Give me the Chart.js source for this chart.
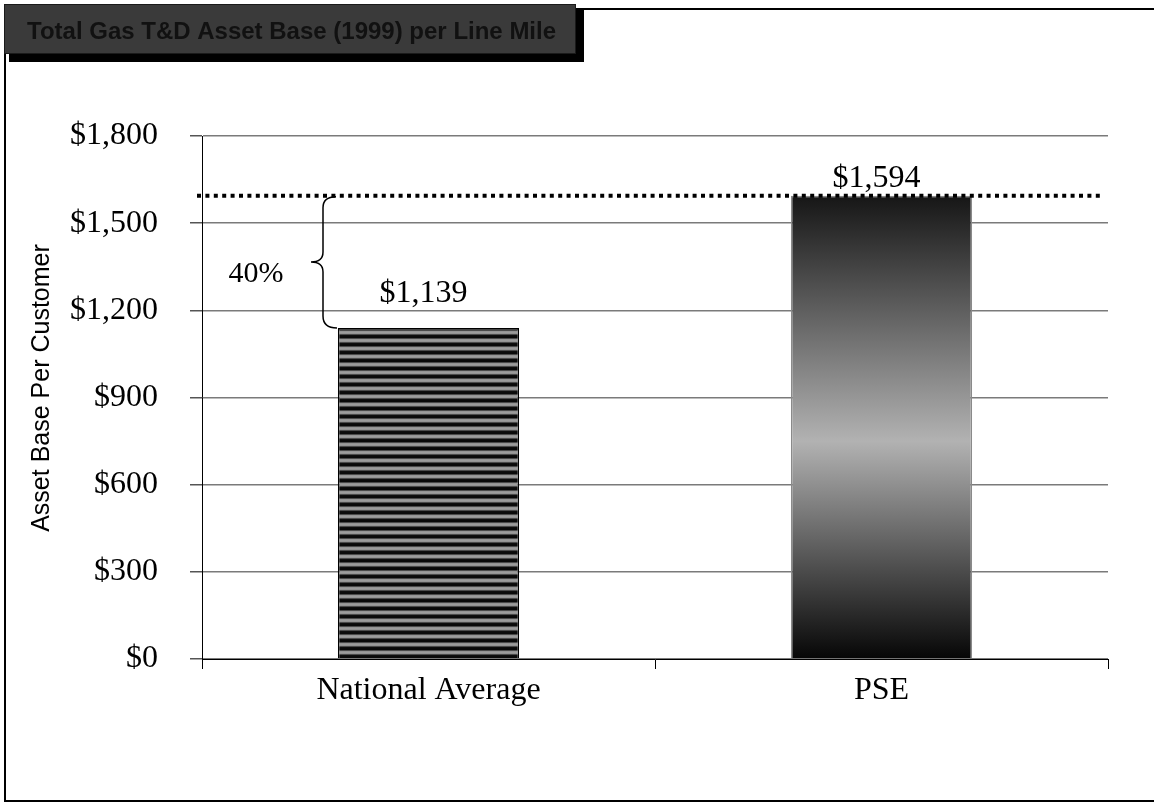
<!DOCTYPE html>
<html>
<head>
<meta charset="utf-8">
<script src="https://cdn.jsdelivr.net/npm/chart.js@4"></script>
<style>
  html, body { margin: 0; padding: 0; background: #fff; }
  #wrap { width: 1154px; height: 810px; }
</style>
</head>
<body>
<div id="wrap"><canvas id="gasChart" width="1154" height="810"></canvas></div>
<script>
// data
const categories = ["National Average", "PSE"];
const assetBase = [1139, 1594];
const yTicks = [0, 300, 600, 900, 1200, 1500, 1800];
const chartTitle = "Total Gas T&D Asset Base (1999) per Line Mile";
const yTitle = "Asset Base Per Customer";

const serif = "'Times New Roman', 'Liberation Serif', serif";
const sans = "Arial, 'Liberation Sans', sans-serif";

function money(v) {
  return "$" + v.toLocaleString("en-US");
}

// striped fill for the national average bar
function stripePattern() {
  const c = document.createElement("canvas");
  c.width = 4; c.height = 8;
  const g = c.getContext("2d");
  const rows = ["#0a0a0a", "#0a0a0a", "#4a4a4a", "#939393", "#9c9c9c", "#939393", "#4a4a4a", "#0e0e0e"];
  rows.forEach((col, i) => { g.fillStyle = col; g.fillRect(0, i, 4, 1); });
  return g.createPattern(c, "repeat");
}

function barFill(context) {
  const chart = context.chart;
  if (!chart.chartArea) return "#333";
  if (context.dataIndex === 0) return stripePattern();
  const y = chart.scales.y;
  const top = y.getPixelForValue(assetBase[1]);
  const bottom = y.getPixelForValue(0);
  const grad = chart.ctx.createLinearGradient(0, top, 0, bottom);
  grad.addColorStop(0, "#161616");
  grad.addColorStop(0.53, "#b2b2b2");
  grad.addColorStop(1, "#060606");
  return grad;
}

const decorations = {
  id: "decorations",
  beforeDraw(chart) {
    const ctx = chart.ctx;
    ctx.save();
    ctx.fillStyle = "#fff";
    ctx.fillRect(0, 0, chart.width, chart.height);
    // outer frame
    ctx.strokeStyle = "#000";
    ctx.lineWidth = 2;
    ctx.strokeRect(5, 9, 1170, 792);
    ctx.restore();
  },
  afterDatasetsDraw(chart) {
    const ctx = chart.ctx;
    const y = chart.scales.y;
    const area = chart.chartArea;
    const meta = chart.getDatasetMeta(0);
    const yPse = y.getPixelForValue(assetBase[1]);
    const yNat = y.getPixelForValue(assetBase[0]);
    ctx.save();

    // dotted reference line at the PSE level
    ctx.strokeStyle = "#000";
    ctx.lineWidth = 4;
    ctx.setLineDash([4, 4.4]);
    ctx.beginPath();
    ctx.moveTo(area.left - 5, yPse);
    ctx.lineTo(area.right - 6, yPse);
    ctx.stroke();
    ctx.setLineDash([]);

    // brace between the two levels
    const bx = 323;
    const mid = (yPse + yNat) / 2;
    ctx.lineWidth = 1.5;
    ctx.beginPath();
    ctx.moveTo(bx + 13, yPse + 1);
    ctx.quadraticCurveTo(bx, yPse + 1, bx, yPse + 12);
    ctx.lineTo(bx, mid - 10);
    ctx.quadraticCurveTo(bx, mid, bx - 12, mid);
    ctx.quadraticCurveTo(bx, mid, bx, mid + 10);
    ctx.lineTo(bx, yNat - 12);
    ctx.quadraticCurveTo(bx, yNat, bx + 14, yNat);
    ctx.stroke();

    ctx.fillStyle = "#000";
    ctx.font = "30px " + serif;
    ctx.textAlign = "center";
    ctx.textBaseline = "alphabetic";
    const pct = Math.round((assetBase[1] / assetBase[0] - 1) * 100);
    ctx.fillText(pct + "%", 256, mid + 20);

    // value labels above the bars
    ctx.font = "32px " + serif;
    const lift = [26, 9];
    meta.data.forEach((bar, i) => {
      ctx.fillText(money(assetBase[i]), bar.x - 5, bar.y - lift[i]);
    });

    // y axis title
    ctx.font = "25px " + sans;
    ctx.textBaseline = "middle";
    ctx.translate(42, 388);
    ctx.rotate(-Math.PI / 2);
    ctx.fillText(yTitle, 0, 0);
    ctx.restore();
  },
  afterDraw(chart) {
    const ctx = chart.ctx;
    ctx.save();
    // title box with drop shadow
    ctx.fillStyle = "#000";
    ctx.fillRect(9, 10, 575, 52);
    ctx.fillStyle = "#3a3a3a";
    ctx.fillRect(4, 4, 572, 50);
    ctx.strokeStyle = "#1a1a1a";
    ctx.lineWidth = 1;
    ctx.strokeRect(4.5, 4.5, 571, 49);
    ctx.fillStyle = "#111";
    ctx.font = "bold 24px " + sans;
    ctx.textAlign = "left";
    ctx.textBaseline = "alphabetic";
    ctx.fillText(chartTitle, 27, 39);
    ctx.restore();
  }
};

const ctx = document.getElementById("gasChart").getContext("2d");
const gasChart = new Chart(ctx, {
  type: "bar",
  data: {
    labels: categories,
    datasets: [{
      data: assetBase,
      backgroundColor: barFill,
      borderColor: ["#000", "#8a8a8a"],
      borderWidth: 1.5,
      barPercentage: 0.4,
      categoryPercentage: 1.0
    }]
  },
  options: {
    responsive: false,
    animation: false,
    layout: { padding: { top: 136, right: 46, left: 0, bottom: 0 } },
    plugins: {
      legend: { display: false },
      tooltip: { enabled: false },
      title: { display: false }
    },
    scales: {
      x: {
        afterFit(scale) { scale.height = 151; },
        grid: {
          drawOnChartArea: false,
          drawTicks: true,
          tickLength: 10,
          tickColor: "#000",
          offset: true
        },
        border: { display: true, color: "#000", width: 1 },
        ticks: {
          color: "#000",
          padding: 2,
          font: { family: serif, size: 32 }
        }
      },
      y: {
        min: 0,
        max: 1800,
        afterFit(scale) { scale.width = 202; },
        afterBuildTicks(scale) {
          scale.ticks = yTicks.map(v => ({ value: v }));
        },
        grid: {
          color: "#7a7a7a",
          lineWidth: 1.5,
          tickLength: 12,
          tickColor: "#555"
        },
        border: { display: true, color: "#000", width: 1 },
        ticks: {
          color: "#000",
          padding: 32,
          font: { family: serif, size: 32 },
          callback: v => money(v)
        },
        title: { display: false }
      }
    }
  },
  plugins: [decorations]
});
</script>
</body>
</html>
